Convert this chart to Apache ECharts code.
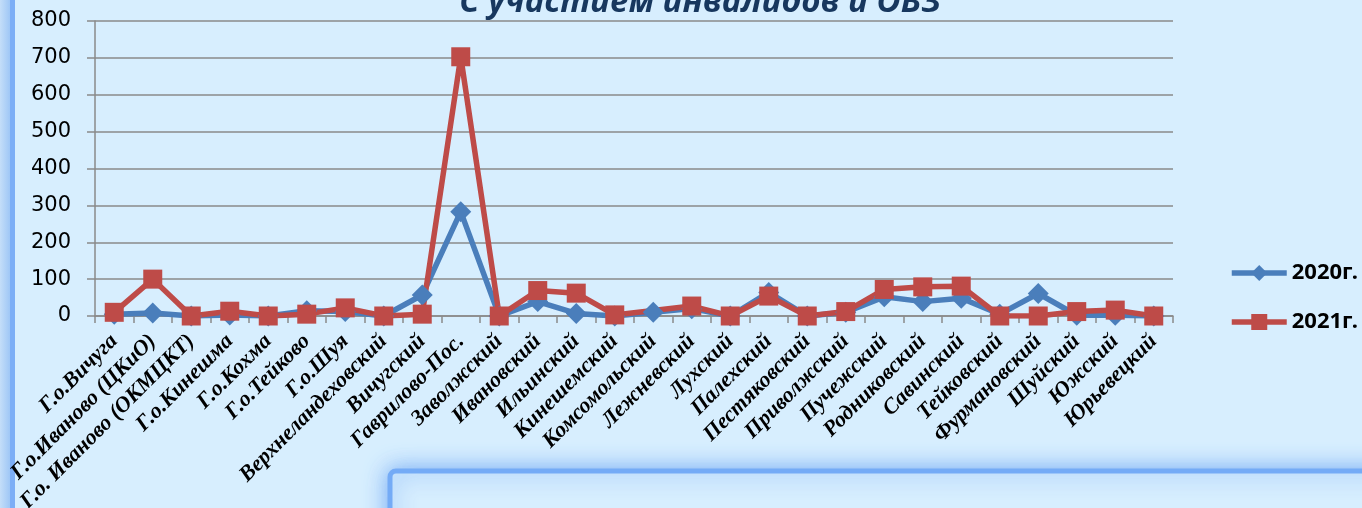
<!DOCTYPE html>
<html>
<head>
<meta charset="utf-8">
<script src="https://cdn.jsdelivr.net/npm/echarts@6/dist/echarts.min.js"></script>
<style>
  html, body { margin: 0; padding: 0; background: #D7EEFE; }
  #chart { width: 1362px; height: 508px; }
</style>
</head>
<body>
<div id="chart"></div>
<script>
const titleText = 'С участием инвалидов и ОВЗ';
const categories = [
  'Г.о.Вичуга', 'Г.о.Иваново (ЦКиО)', 'Г.о. Иваново (ОКМЦКТ)', 'Г.о.Кинешма', 'Г.о.Кохма',
  'Г.о.Тейково', 'Г.о.Шуя', 'Верхнеландеховский', 'Вичугский', 'Гаврилово-Пос.',
  'Заволжский', 'Ивановский', 'Ильинский', 'Кинешемский', 'Комсомольский',
  'Лежневский', 'Лухский', 'Палехский', 'Пестяковский', 'Приволжский',
  'Пучежский', 'Родниковский', 'Савинский', 'Тейковский', 'Фурмановский',
  'Шуйский', 'Южский', 'Юрьевецкий'
];
const seriesNames = ['2020г.', '2021г.'];
const values2020 = [5, 8, 0, 3, 0, 14, 12, 0, 57, 283, 0, 39, 7, 0, 10, 20, 0, 64, 0, 10, 52, 39, 48, 5, 61, 2, 2, 0];
const values2021 = [10, 100, 0, 13, 0, 5, 22, 0, 5, 703, 0, 69, 62, 3, null, 27, 0, 54, 0, 12, 72, 79, 81, 0, 0, 12, 16, 0];
const yTicks = { min: 0, max: 800, interval: 100 };

const chart = echarts.init(document.getElementById('chart'), null, { renderer: 'canvas' });
chart.setOption({
  backgroundColor: '#D7EEFE',
  animation: false,
  graphic: [
    { type: 'rect', z: -10, shape: { x: 0, y: 0, width: 10, height: 508 },
      style: { fill: new echarts.graphic.LinearGradient(0, 0, 1, 0, [
        { offset: 0, color: '#C4DEF9' }, { offset: 1, color: '#9FC7F6' }]) } },
    { type: 'rect', z: -10, shape: { x: 10, y: 0, width: 5, height: 508 },
      style: { fill: '#7CAEF6' } },
    { type: 'rect', z: -5, shape: { x: 390, y: 471, width: 1100, height: 120, r: 6 },
      style: { fill: '#D7EEFE', stroke: '#74ABF6', lineWidth: 5,
        shadowBlur: 22, shadowColor: 'rgba(100,160,245,0.85)' } },
    { type: 'text', z: 10, x: 700, y: 3,
      style: { text: titleText, fill: '#17375E',
        font: 'italic bold 33px "Open Sans"', align: 'center', verticalAlign: 'middle' } }
  ],
  grid: { left: 95, right: 189, top: 21, bottom: 192, containLabel: false, outerBoundsMode: 'none' },
  legend: {
    orient: 'vertical', left: 1224, top: 257,
    itemWidth: 55, itemHeight: 20, itemGap: 27,
    lineStyle: { width: 5.5 },
    textStyle: { fontFamily: 'Noto Sans', fontWeight: 'bold', fontSize: 22, color: '#000' },
    data: seriesNames
  },
  xAxis: {
    type: 'category', data: categories, boundaryGap: true,
    axisLine: { lineStyle: { color: '#8A8A8A', width: 1.5 } },
    axisTick: { show: true, length: 7, lineStyle: { color: '#8A8A8A', width: 1.5 } },
    axisLabel: { interval: 0, rotate: 45, margin: 22, color: '#000', verticalAlign: 'middle',
      fontFamily: 'Liberation Serif', fontStyle: 'italic', fontWeight: 'bold', fontSize: 22 }
  },
  yAxis: {
    type: 'value', min: yTicks.min, max: yTicks.max, interval: yTicks.interval,
    axisLine: { show: true, lineStyle: { color: '#8A8A8A', width: 1.5 } },
    axisTick: { show: true, length: 8, lineStyle: { color: '#8A8A8A', width: 1.5 } },
    splitLine: { lineStyle: { color: '#8A8A8A', width: 1.5 } },
    axisLabel: { margin: 24, color: '#000', fontFamily: 'DejaVu Sans', fontSize: 21 }
  },
  series: [
    { name: seriesNames[0], type: 'line', data: values2020,
      symbol: 'diamond', symbolSize: 21, connectNulls: true,
      lineStyle: { color: '#4A7EBB', width: 5.5 },
      itemStyle: { color: '#4A7EBB' } },
    { name: seriesNames[1], type: 'line', data: values2021,
      symbol: 'rect', symbolSize: 19, connectNulls: true,
      lineStyle: { color: '#BE4B48', width: 5.5 },
      itemStyle: { color: '#BE4B48' } }
  ]
});
</script>
</body>
</html>
